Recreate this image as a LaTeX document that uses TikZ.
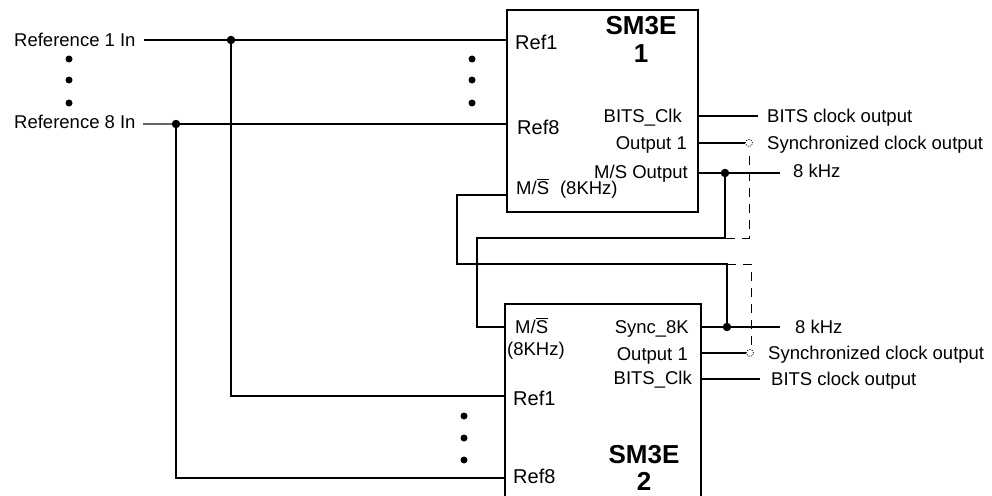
\documentclass[tikz,border=0pt]{standalone}
\usepackage{fontspec}
\setmainfont{Liberation Sans}
\usetikzlibrary{positioning}
\newcommand{\pinfont}{\fontsize{18.5}{22}\selectfont}
\newcommand{\reffont}{\fontsize{20}{24}\selectfont}
\newcommand{\chipfont}{\fontsize{26}{30}\selectfont\bfseries}
\newcommand{\msbar}{M/$\overline{\mbox{S}}$}
\tikzstyle{chip} = [rectangle, draw=black, line width=2.2pt, anchor=north west, inner sep=0pt]
\tikzstyle{lbl} = [font=\pinfont, inner sep=0pt]
\tikzstyle{lblw} = [lbl, anchor=base west]
\tikzstyle{lble} = [lbl, anchor=base east]
\tikzstyle{refin} = [font=\reffont, inner sep=0pt, anchor=base west]
\tikzstyle{chipname} = [font=\chipfont, inner sep=0pt, anchor=base]
\tikzstyle{wire} = [line width=2pt]
\tikzstyle{thinwire} = [line width=1.2pt, black!60]
\tikzstyle{opt} = [line width=1pt, dash pattern=on 9pt off 7pt]
\tikzstyle{junction} = [circle, fill=black, inner sep=0pt, minimum size=8.5pt]
\tikzstyle{vdot} = [circle, fill=black, inner sep=0pt, minimum size=7pt]
\tikzstyle{tap} = [circle, draw=black, line width=0.7pt, dash pattern=on 1.2pt off 1.2pt, inner sep=0pt, minimum size=7pt]

\begin{document}
\begin{tikzpicture}[x=1pt, y=-1pt]
\useasboundingbox (0,0) rectangle (992,495);
\clip (0,0) rectangle (992,495);

% SM3E units
\node (sm1) [chip, minimum width=191pt, minimum height=202pt] at (506,9) {};
\node (sm2) [chip, minimum width=196pt, minimum height=220pt] at (504,303) {};

% unit 1 pins
\node (n1a) [chipname] at (641,35) {SM3E};
\node (n1b) [chipname] at (641,63) {1};
\node (r1a) [refin] at (515,49) {Ref1};
\node (r1b) [refin] at (517,134) {Ref8};
\node (clk1) [lble] at (682,122) {BITS\_Clk};
\node (out1) [lble] at (687,149) {Output 1};
\node (mso1) [lble] at (688,178) {M/S Output};
\node (msi1) [lblw] at (516,194) {\msbar\hspace{11pt}(8KHz)};

% unit 2 pins
\node (msi2) [lblw] at (515,333) {\msbar};
\node (msi2b) [lblw] at (507,355) {(8KHz)};
\node (syn2) [lble] at (689,333) {Sync\_8K};
\node (out2) [lble] at (688,360) {Output 1};
\node (clk2) [lble] at (692,384) {BITS\_Clk};
\node (r2a) [refin] at (513,405) {Ref1};
\node (r2b) [refin] at (513,483) {Ref8};
\node (n2a) [chipname] at (644,463) {SM3E};
\node (n2b) [chipname] at (644,490) {2};

% inputs and outputs
\node (in1) [lblw] at (14,46) {Reference 1 In};
\node (in8) [lblw] at (14,128) {Reference 8 In};
\node (bo1) [lblw] at (767,122) {BITS clock output};
\node (so1) [lblw] at (767,149) {Synchronized clock output};
\node (k1) [lblw] at (793,177) {8 kHz};
\node (k2) [lblw] at (795,333) {8 kHz};
\node (so2) [lblw] at (768,359) {Synchronized clock output};
\node (bo2) [lblw] at (771,385) {BITS clock output};

\coordinate (p1ref1) at (506,40);
\coordinate (p1ref8) at (506,124);
\coordinate (p1ms) at (506,195);
\coordinate (p1clk) at (697,116);
\coordinate (p1out) at (697,143);
\coordinate (p1mso) at (697,173);
\coordinate (p2ms) at (504,327);
\coordinate (p2ref1) at (504,396);
\coordinate (p2ref8) at (504,478);
\coordinate (p2syn) at (700,327);
\coordinate (p2out) at (700,353);
\coordinate (p2clk) at (700,379);

\coordinate (e1ref1) at (144,40);
\coordinate (e1ref8) at (143,124);
\coordinate (e1clk) at (758,116);
\coordinate (e1k) at (780,173);
\coordinate (e2k) at (780,327);
\coordinate (e2clk) at (760,379);
\coordinate (x1ms) at (457,264);
\coordinate (x2ms) at (477,238);
\coordinate (b1) at (725,238);
\coordinate (b2) at (727,264);
\coordinate (d1top) at (749,156);
\coordinate (d1bot) at (749,238);
\coordinate (d2top) at (751,264);
\coordinate (d2bot) at (751,345);

\node (j1) [junction] at (231,40) {};
\node (j8) [junction] at (176,124) {};
\node (jm1) [junction] at (725,173) {};
\node (jm2) [junction] at (727,327) {};
\node (t1) [tap] at (749,143) {};
\node (t2) [tap] at (750,353) {};

\foreach \y in {59,80,103} {
  \node (lv\y) [vdot] at (69,\y) {};
  \node (mv\y) [vdot] at (472,\y) {};
}
\foreach \y in {416,438,460}
  \node (bv\y) [vdot] at (464,\y) {};

\draw [wire] (e1ref1) -- (p1ref1);
\draw [thinwire] (e1ref8) -- (j8);
\draw [wire] (j8) -- (p1ref8);
\draw [wire] (j1) |- (p2ref1);
\draw [wire] (j8) |- (p2ref8);
\draw [wire] (p1ms) -| (x1ms) -| (jm2);
\draw [wire] (jm1) |- (x2ms) |- (p2ms);
\draw [wire] (p1clk) -- (e1clk);
\draw [wire] (p1out) -- (t1);
\draw [wire] (p1mso) -- (e1k);
\draw [wire] (p2syn) -- (e2k);
\draw [wire] (p2out) -- (t2);
\draw [wire] (p2clk) -- (e2clk);
\draw [opt] (d1top) -- (d1bot) -- (b1);
\draw [opt] (b2) -- (d2top) -- (d2bot);

\end{tikzpicture}
\end{document}
